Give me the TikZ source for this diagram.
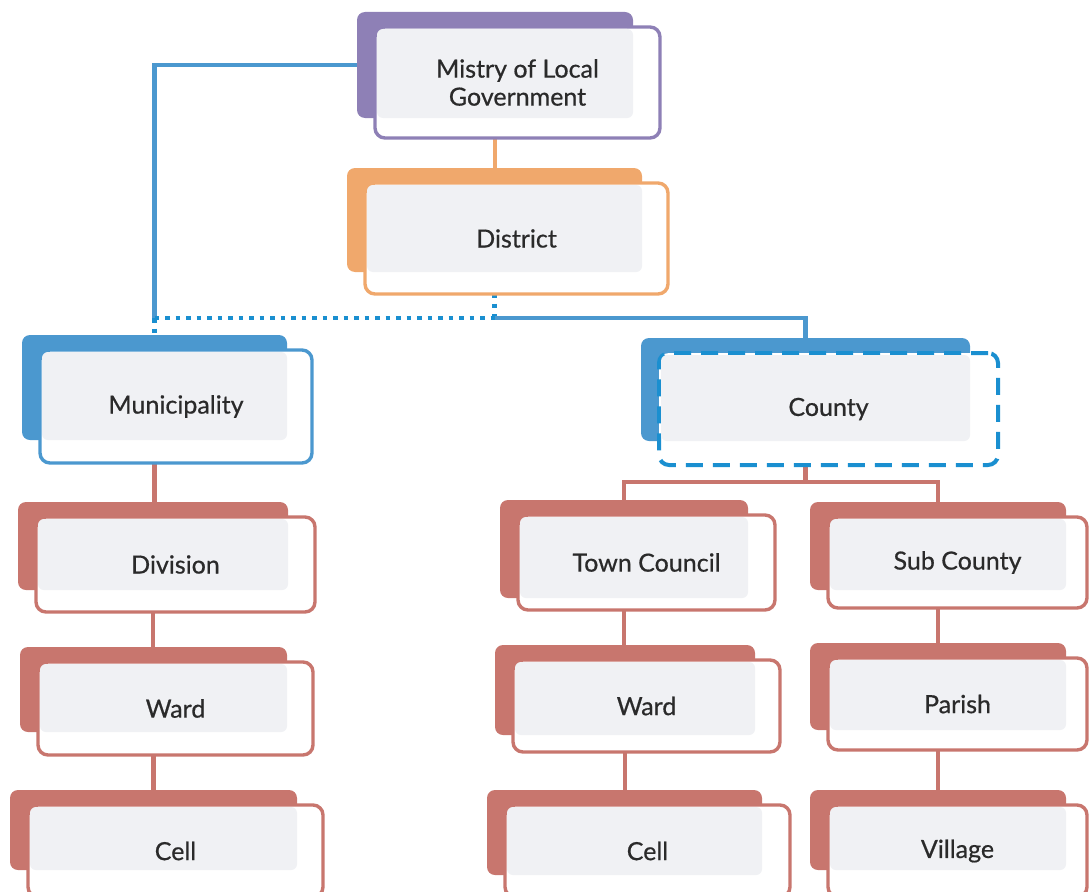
\documentclass[tikz,border=0pt]{standalone}
\usepackage{fontspec}
\setmainfont{Lato}
\newfontfamily\boxfont{Lato}[FakeBold=0.6]
\usetikzlibrary{fit, backgrounds}
\definecolor{mlgpurple}{HTML}{8E80B6}
\definecolor{distorange}{HTML}{F0A86C}
\definecolor{lgblue}{HTML}{4B98CF}
\definecolor{dashblue}{HTML}{1A8FD0}
\definecolor{lowred}{HTML}{C8766E}
\definecolor{innergray}{HTML}{F0F1F4}
\definecolor{textgray}{HTML}{2A2A2A}
\tikzset{%
	backbox/.style={
		rectangle,
		rounded corners=8pt,
		inner sep=0pt,
		outer sep=0pt
	},
	frontbox/.style={
		rectangle,
		rounded corners=10pt,
		fill=white,
		line width=3.4pt,
		inner sep=0pt,
		outer sep=0pt
	},
	boxtext/.style={
		text=textgray,
		align=center,
		font=\boxfont\fontsize{25}{28}\selectfont
	},
	blueline/.style={draw=lgblue, line width=4.2pt},
	bluedot/.style={draw=dashblue, line width=4.5pt, dash pattern=on 4.5pt off 6pt},
	redline/.style={draw=lowred, line width=4.6pt},
	orangeline/.style={draw=distorange, line width=4.6pt},
	countyedge/.style={draw=dashblue, line width=4pt, dash pattern=on 17pt off 10pt}
}

\begin{document}
\begin{tikzpicture}[x=1pt, y=-1pt]
	% #1 front style, #2 name, #3 back corner, #4 back corner, #5 front corner, #6 colour, #7 text
	\newcommand{\orgbox}[7][]{%
		\node[backbox, fill=#6, fit={(#3) (#4)}] (#2b) {};
		\node[frontbox, draw=#6, #1, fit={([shift={(18pt,-15pt)}]#3) (#5)}] (#2) {};
		\fill[innergray, rounded corners=6pt] ([shift={(2pt,-2pt)}]#2.north west) rectangle (#2b.south east);
		\node[boxtext] (#2t) at (#2.center) {#7};
	}
	\useasboundingbox (0,0) rectangle (1089,891);
	
	% top levels
	\orgbox{mlg}{357,12}{633,118}{660,138}{mlgpurple}{Mistry of Local\\Government}
	\orgbox{dist}{347,168}{642,272}{668,294}{distorange}{District}
	\orgbox{muni}{22,335}{287,440}{312,463}{lgblue}{Municipality}
	\orgbox[countyedge]{cnty}{641,338}{970,441}{998,465}{lgblue}{County}
	
	% lower levels
	\orgbox{div}{18,502}{288,590}{315,612}{lowred}{Division}
	\orgbox{wardl}{20,647}{287,732}{313,755}{lowred}{Ward}
	\orgbox{celll}{10,790}{297,870}{323,897}{lowred}{Cell}
	\orgbox{town}{500,500}{748,598}{775,610}{lowred}{Town Council}
	\orgbox{wardm}{495,645}{755,735}{780,752}{lowred}{Ward}
	\orgbox{cellm}{487,790}{762,875}{790,897}{lowred}{Cell}
	\orgbox{subc}{810,502}{1066,590}{1087,608}{lowred}{Sub County}
	\orgbox{par}{810,643}{1066,730}{1087,750}{lowred}{Parish}
	\orgbox{vil}{810,790}{1066,870}{1087,897}{lowred}{Village}
	
	% connectors
	\begin{scope}[on background layer]
		\coordinate (barB) at (0,318);
		\coordinate (barR) at (0,482);
		\coordinate (jL) at (munib.north |- barB);
		\coordinate (jM) at (distb.south |- barB);
		\coordinate (jC) at (cntyb.south |- barR);
		\draw[orangeline] (mlgb.south) -- (mlgb.south |- distb.north);
		\draw[blueline] (mlgb.west) -| (jL);
		\draw[bluedot] (jL) -- (munib.north);
		\draw[bluedot] (jL) -- (jM);
		\draw[bluedot] (distb.south) -- (jM);
		\draw[blueline] (jM) -| (cntyb.north);
		\draw[redline] (cntyb.south) -- (jC);
		\draw[redline] (town.north -| townb.north) |- (jC) -| (subcb.north);
		\foreach \a/\b in {munib/divb, divb/wardlb, wardlb/celllb, townb/wardmb, wardmb/cellmb, subcb/parb, parb/vilb} {
			\draw[redline] (\a.south) -- (\a.south |- \b.north);
		}
	\end{scope}
\end{tikzpicture}
\end{document}
